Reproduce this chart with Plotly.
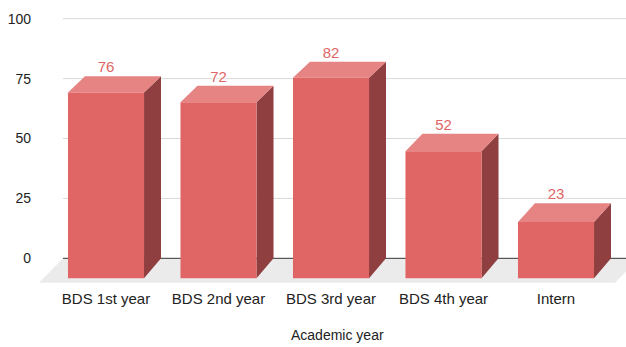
import plotly.graph_objects as go

categories = ["BDS 1st year", "BDS 2nd year", "BDS 3rd year", "BDS 4th year", "Intern"]
values = [76, 72, 82, 52, 23]
y_ticks = [0, 25, 50, 75, 100]
x_title = "Academic year"

# 3D geometry (in axis data units)
HALF_W = 0.338      # half width of the front face
DX = 0.151          # depth offset in x
FRONT_BASE = -8.36  # front face bottom (value units)
FRONT_SCALE = 1.0205
X_MIN, X_MAX = -0.5956, 4.6222
Y_MIN, Y_MAX = -10.3, 100.3
FLOOR_FRONT = -10.2
FLOOR_BACK_LEFT = -0.382
FLOOR_FRONT_RIGHT = 4.524
FLOOR_DX = 0.213

FRONT_C = "#e06666"
TOP_C = "#e68383"
SIDE_C = "#8f3f40"
FONT = "Arial, Liberation Sans"

fig = go.Figure()

# floor
fig.add_trace(go.Scatter(
    x=[X_MIN, FLOOR_FRONT_RIGHT, FLOOR_FRONT_RIGHT + FLOOR_DX, FLOOR_BACK_LEFT, X_MIN],
    y=[FLOOR_FRONT, FLOOR_FRONT, 0, 0, FLOOR_FRONT],
    fill="toself", fillcolor="#ebebeb", line=dict(width=0),
    mode="lines", hoverinfo="skip", showlegend=False))

# gridlines on the back wall
for t in y_ticks:
    fig.add_trace(go.Scatter(
        x=[FLOOR_BACK_LEFT, X_MAX + 1], y=[t, t], mode="lines",
        line=dict(color="#333333" if t == 0 else "#d9d9d9", width=1),
        hoverinfo="skip", showlegend=False))

# bars
for i, v in enumerate(values):
    xl, xr = i - HALF_W, i + HALF_W
    fb = FRONT_BASE
    ft = v * FRONT_SCALE + FRONT_BASE
    # side face
    fig.add_trace(go.Scatter(
        x=[xr, xr + DX, xr + DX, xr, xr], y=[fb, 0, v, ft, fb],
        fill="toself", fillcolor=SIDE_C, line=dict(width=0),
        mode="lines", hoverinfo="skip", showlegend=False))
    # top face
    fig.add_trace(go.Scatter(
        x=[xl, xr, xr + DX, xl + DX, xl], y=[ft, ft, v, v, ft],
        fill="toself", fillcolor=TOP_C, line=dict(width=0),
        mode="lines", hoverinfo="skip", showlegend=False))
    # front face
    fig.add_trace(go.Scatter(
        x=[xl, xr, xr, xl, xl], y=[fb, fb, ft, ft, fb],
        fill="toself", fillcolor=FRONT_C, line=dict(width=0),
        mode="lines", hoverinfo="skip", showlegend=False))

# value labels
fig.add_trace(go.Scatter(
    x=list(range(len(values))), y=values, mode="text",
    text=[str(v) for v in values], textposition="top center",
    textfont=dict(family=FONT, size=15, color="#e06666",
                  shadow="1px 1px 1px #fff, -1px -1px 1px #fff, 1px -1px 1px #fff, -1px 1px 1px #fff"),
    hoverinfo="skip", showlegend=False, cliponaxis=False))

fig.add_annotation(text=x_title, xref="paper", yref="paper",
                   x=(337.5 - 39) / 587, y=-(335 - 283) / 265,
                   showarrow=False, xanchor="center", yanchor="middle",
                   font=dict(family=FONT, size=14, color="#222222"))

fig.update_layout(
    width=626, height=347,
    margin=dict(l=39, r=0, t=18, b=64),
    paper_bgcolor="white", plot_bgcolor="white",
    font=dict(family=FONT, size=14, color="#444444"),
    xaxis=dict(range=[X_MIN, X_MAX], tickvals=list(range(len(categories))),
               ticktext=categories, showgrid=False, zeroline=False, showline=False,
               ticks="", ticklabelstandoff=5, tickfont=dict(color="#222222", size=15)),
    yaxis=dict(range=[Y_MIN, Y_MAX], tickvals=y_ticks, showgrid=False,
               zeroline=False, showline=False, ticks="", ticklabelstandoff=7,
               tickfont=dict(color="#222222", size=14)),
)

fig.write_html("out.html")
